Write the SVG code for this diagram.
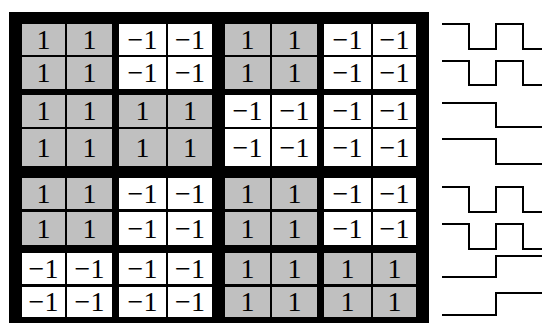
<svg xmlns="http://www.w3.org/2000/svg" width="542" height="324" viewBox="0 0 542 324">
<style>
.g{fill:#c0c0c0}
.w{fill:#ffffff}
text{font-family:"Liberation Serif","Times New Roman",serif;font-size:28px;text-anchor:middle;fill:#000}
.wave{fill:none;stroke:#000;stroke-width:2}
</style>
<rect id="frame" x="9" y="12" width="420" height="311" fill="#000"/>
<g id="row1">
<g id="c11"><rect class="g" x="22" y="24" width="43" height="31"/><text x="43.5" y="48.5">1</text></g>
<g id="c12"><rect class="g" x="67" y="24" width="45" height="31"/><text x="89.5" y="48.5">1</text></g>
<g id="c13"><rect class="w" x="119" y="24" width="47" height="31"/><text x="142.5" y="48.5">−1</text></g>
<g id="c14"><rect class="w" x="168" y="24" width="44" height="31"/><text x="190" y="48.5">−1</text></g>
<g id="c15"><rect class="g" x="225" y="24" width="45" height="31"/><text x="247.5" y="48.5">1</text></g>
<g id="c16"><rect class="g" x="272" y="24" width="45" height="31"/><text x="294.5" y="48.5">1</text></g>
<g id="c17"><rect class="w" x="324" y="24" width="47" height="31"/><text x="347.5" y="48.5">−1</text></g>
<g id="c18"><rect class="w" x="373" y="24" width="43" height="31"/><text x="394.5" y="48.5">−1</text></g>
</g>
<g id="row2">
<g id="c21"><rect class="g" x="22" y="57" width="43" height="32"/><text x="43.5" y="82">1</text></g>
<g id="c22"><rect class="g" x="67" y="57" width="45" height="32"/><text x="89.5" y="82">1</text></g>
<g id="c23"><rect class="w" x="119" y="57" width="47" height="32"/><text x="142.5" y="82">−1</text></g>
<g id="c24"><rect class="w" x="168" y="57" width="44" height="32"/><text x="190" y="82">−1</text></g>
<g id="c25"><rect class="g" x="225" y="57" width="45" height="32"/><text x="247.5" y="82">1</text></g>
<g id="c26"><rect class="g" x="272" y="57" width="45" height="32"/><text x="294.5" y="82">1</text></g>
<g id="c27"><rect class="w" x="324" y="57" width="47" height="32"/><text x="347.5" y="82">−1</text></g>
<g id="c28"><rect class="w" x="373" y="57" width="43" height="32"/><text x="394.5" y="82">−1</text></g>
</g>
<g id="row3">
<g id="c31"><rect class="g" x="22" y="95" width="43" height="32"/><text x="43.5" y="120">1</text></g>
<g id="c32"><rect class="g" x="67" y="95" width="45" height="32"/><text x="89.5" y="120">1</text></g>
<g id="c33"><rect class="g" x="119" y="95" width="47" height="32"/><text x="142.5" y="120">1</text></g>
<g id="c34"><rect class="g" x="168" y="95" width="44" height="32"/><text x="190" y="120">1</text></g>
<g id="c35"><rect class="w" x="225" y="95" width="45" height="32"/><text x="247.5" y="120">−1</text></g>
<g id="c36"><rect class="w" x="272" y="95" width="45" height="32"/><text x="294.5" y="120">−1</text></g>
<g id="c37"><rect class="w" x="324" y="95" width="47" height="32"/><text x="347.5" y="120">−1</text></g>
<g id="c38"><rect class="w" x="373" y="95" width="43" height="32"/><text x="394.5" y="120">−1</text></g>
</g>
<g id="row4">
<g id="c41"><rect class="g" x="22" y="129" width="43" height="37"/><text x="43.5" y="156.5">1</text></g>
<g id="c42"><rect class="g" x="67" y="129" width="45" height="37"/><text x="89.5" y="156.5">1</text></g>
<g id="c43"><rect class="g" x="119" y="129" width="47" height="37"/><text x="142.5" y="156.5">1</text></g>
<g id="c44"><rect class="g" x="168" y="129" width="44" height="37"/><text x="190" y="156.5">1</text></g>
<g id="c45"><rect class="w" x="225" y="129" width="45" height="37"/><text x="247.5" y="156.5">−1</text></g>
<g id="c46"><rect class="w" x="272" y="129" width="45" height="37"/><text x="294.5" y="156.5">−1</text></g>
<g id="c47"><rect class="w" x="324" y="129" width="47" height="37"/><text x="347.5" y="156.5">−1</text></g>
<g id="c48"><rect class="w" x="373" y="129" width="43" height="37"/><text x="394.5" y="156.5">−1</text></g>
</g>
<g id="row5">
<g id="c51"><rect class="g" x="22" y="178" width="43" height="31"/><text x="43.5" y="202.5">1</text></g>
<g id="c52"><rect class="g" x="67" y="178" width="45" height="31"/><text x="89.5" y="202.5">1</text></g>
<g id="c53"><rect class="w" x="119" y="178" width="47" height="31"/><text x="142.5" y="202.5">−1</text></g>
<g id="c54"><rect class="w" x="168" y="178" width="44" height="31"/><text x="190" y="202.5">−1</text></g>
<g id="c55"><rect class="g" x="225" y="178" width="45" height="31"/><text x="247.5" y="202.5">1</text></g>
<g id="c56"><rect class="g" x="272" y="178" width="45" height="31"/><text x="294.5" y="202.5">1</text></g>
<g id="c57"><rect class="w" x="324" y="178" width="47" height="31"/><text x="347.5" y="202.5">−1</text></g>
<g id="c58"><rect class="w" x="373" y="178" width="43" height="31"/><text x="394.5" y="202.5">−1</text></g>
</g>
<g id="row6">
<g id="c61"><rect class="g" x="22" y="212" width="43" height="33"/><text x="43.5" y="237.5">1</text></g>
<g id="c62"><rect class="g" x="67" y="212" width="45" height="33"/><text x="89.5" y="237.5">1</text></g>
<g id="c63"><rect class="w" x="119" y="212" width="47" height="33"/><text x="142.5" y="237.5">−1</text></g>
<g id="c64"><rect class="w" x="168" y="212" width="44" height="33"/><text x="190" y="237.5">−1</text></g>
<g id="c65"><rect class="g" x="225" y="212" width="45" height="33"/><text x="247.5" y="237.5">1</text></g>
<g id="c66"><rect class="g" x="272" y="212" width="45" height="33"/><text x="294.5" y="237.5">1</text></g>
<g id="c67"><rect class="w" x="324" y="212" width="47" height="33"/><text x="347.5" y="237.5">−1</text></g>
<g id="c68"><rect class="w" x="373" y="212" width="43" height="33"/><text x="394.5" y="237.5">−1</text></g>
</g>
<g id="row7">
<g id="c71"><rect class="w" x="22" y="253" width="43" height="31"/><text x="43.5" y="277.5">−1</text></g>
<g id="c72"><rect class="w" x="67" y="253" width="45" height="31"/><text x="89.5" y="277.5">−1</text></g>
<g id="c73"><rect class="w" x="119" y="253" width="47" height="31"/><text x="142.5" y="277.5">−1</text></g>
<g id="c74"><rect class="w" x="168" y="253" width="44" height="31"/><text x="190" y="277.5">−1</text></g>
<g id="c75"><rect class="g" x="225" y="253" width="45" height="31"/><text x="247.5" y="277.5">1</text></g>
<g id="c76"><rect class="g" x="272" y="253" width="45" height="31"/><text x="294.5" y="277.5">1</text></g>
<g id="c77"><rect class="g" x="324" y="253" width="47" height="31"/><text x="347.5" y="277.5">1</text></g>
<g id="c78"><rect class="g" x="373" y="253" width="43" height="31"/><text x="394.5" y="277.5">1</text></g>
</g>
<g id="row8">
<g id="c81"><rect class="w" x="22" y="287" width="43" height="30"/><text x="43.5" y="311">−1</text></g>
<g id="c82"><rect class="w" x="67" y="287" width="45" height="30"/><text x="89.5" y="311">−1</text></g>
<g id="c83"><rect class="w" x="119" y="287" width="47" height="30"/><text x="142.5" y="311">−1</text></g>
<g id="c84"><rect class="w" x="168" y="287" width="44" height="30"/><text x="190" y="311">−1</text></g>
<g id="c85"><rect class="g" x="225" y="287" width="45" height="30"/><text x="247.5" y="311">1</text></g>
<g id="c86"><rect class="g" x="272" y="287" width="45" height="30"/><text x="294.5" y="311">1</text></g>
<g id="c87"><rect class="g" x="324" y="287" width="47" height="30"/><text x="347.5" y="311">1</text></g>
<g id="c88"><rect class="g" x="373" y="287" width="43" height="30"/><text x="394.5" y="311">1</text></g>
</g>
<g id="waveforms">
<path id="w1" class="wave" d="M442 24 H469 V49 H496 V24 H523 V49 H542"/>
<path id="w2" class="wave" d="M442 61 H469 V85 H496 V61 H523 V85 H542"/>
<path id="w3" class="wave" d="M442 103 H496 V127 H542"/>
<path id="w4" class="wave" d="M442 139 H496 V164 H542"/>
<path id="w5" class="wave" d="M442 187 H469 V212 H496 V187 H523 V212 H542"/>
<path id="w6" class="wave" d="M442 224 H469 V249 H496 V224 H523 V249 H542"/>
<path id="w7" class="wave" d="M442 277 H496 V256 H542"/>
<path id="w8" class="wave" d="M442 315 H496 V293 H542"/>
</g>
</svg>
